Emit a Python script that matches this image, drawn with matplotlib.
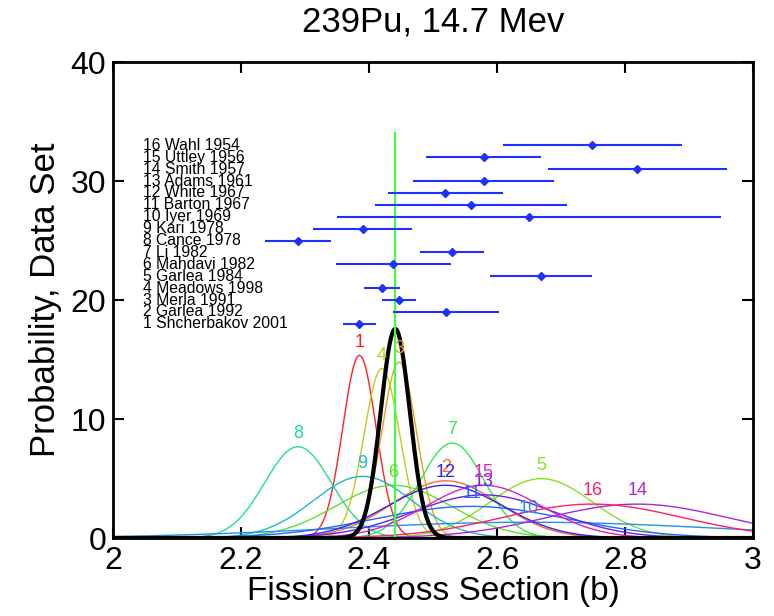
import numpy as np
import matplotlib.pyplot as plt

plt.rcParams['font.family'] = ['Liberation Sans', 'DejaVu Sans']

# data sets: number, name, mean, half width of bar
set_no = list(range(1, 17))
names = ['Shcherbakov 2001', 'Garlea 1992', 'Merla 1991', 'Meadows 1998',
         'Garlea 1984', 'Mahdavi 1982', 'Li 1982', 'Cance 1978', 'Kari 1978',
         'Iyer 1969', 'Barton 1967', 'White 1967', 'Adams 1961', 'Smith 1957',
         'Uttley 1956', 'Wahl 1954']
means = [2.385, 2.520, 2.447, 2.420, 2.669, 2.438, 2.530, 2.289, 2.390,
         2.650, 2.560, 2.519, 2.579, 2.819, 2.579, 2.749]
errs = [0.026, 0.083, 0.027, 0.028, 0.080, 0.090, 0.050, 0.052, 0.077,
        0.300, 0.150, 0.090, 0.110, 0.140, 0.090, 0.140]
colors = ['#ff2020', '#ff6a20', '#e8a020', '#c8c820', '#8ae020', '#60e030',
          '#30e850', '#20e090', '#20b8c8', '#2090e8', '#2068ff', '#2828ff',
          '#6a20e8', '#a828d8', '#e020c0', '#ff2068']

# combined result
comb_mean = 2.441
comb_sig = 0.0227
line_top = 34

fig = plt.figure(figsize=(7.74, 6.16), dpi=100)
ax = fig.add_axes([0.146, 0.1266, 0.827, 0.7727])

x = np.linspace(2, 3, 1001)


def gauss(m, s):
    return np.exp(-0.5 * ((x - m) / s) ** 2) / (s * np.sqrt(2 * np.pi))


for n, m, s, c in zip(set_no, means, errs, colors):
    g = gauss(m, s)
    ax.plot(x, g, color=c, lw=1.0)
    ax.text(m, g.max() + 0.4, str(n), color=c, fontsize=13,
            ha='center', va='bottom')

ax.plot(x, gauss(comb_mean, comb_sig), color='black', lw=3)
ax.plot([comb_mean, comb_mean], [0, line_top], color='#40ff40', lw=1.5)

yrow = [n + 17 for n in set_no]
ax.errorbar(means, yrow, xerr=errs, fmt='D', color='#2030ff', ms=4,
            lw=1.5, capsize=0)

for n, name, yy in zip(set_no, names, yrow):
    ax.text(2.047, yy, f'{n} {name}', fontsize=11.3, ha='left', va='center')

ax.set_xlim(2, 3)
ax.set_ylim(0, 40)
ax.set_xticks([2, 2.2, 2.4, 2.6, 2.8, 3])
ax.set_xticklabels(['2', '2.2', '2.4', '2.6', '2.8', '3'])
ax.set_yticks([0, 10, 20, 30, 40])
ax.tick_params(direction='in', length=8, width=1.5, labelsize=23,
               top=True, right=True)
ax.tick_params(axis='x', pad=6)
ax.tick_params(axis='y', pad=5)
for sp in ax.spines.values():
    sp.set_linewidth(2)

ax.set_xlabel('Fission Cross Section (b)', fontsize=24, labelpad=0)
ax.set_ylabel('Probability, Data Set', fontsize=25, labelpad=6)
ax.set_title('239Pu, 14.7 Mev', fontsize=25, pad=22)

fig.savefig('out.png', dpi=100)
